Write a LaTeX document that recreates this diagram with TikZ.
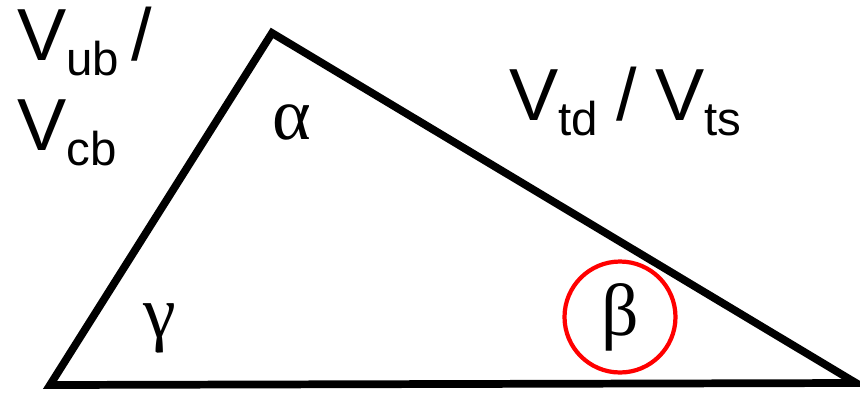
\documentclass[tikz,border=0pt]{standalone}
\usepackage{fontspec}
\setmainfont{Liberation Sans}
\newfontfamily\greekfont{Liberation Serif}
\usepackage{xcolor}
\usetikzlibrary{positioning}
\newcommand\ckmsub[1]{\raisebox{-0.21em}{\fontsize{27}{30}\selectfont #1}}

\begin{document}
\begin{tikzpicture}[
    x=0.02cm, y=-0.02cm,
    side/.style={draw=black, line width=4.4pt},
    ckm/.style={anchor=base west, inner sep=0pt,
                font=\fontsize{42}{46}\selectfont},
    angle/.style={inner sep=0pt, font=\greekfont\fontsize{42}{46}\selectfont},
    mark circle/.style={circle, draw=red, line width=2.4pt,
                        minimum size=2.22cm, inner sep=0pt},
]
\useasboundingbox (0,0) rectangle (860,393);

%% Triangle corners
\coordinate (bl)  at (50,385);
\coordinate (top) at (272,33);
\coordinate (br)  at (856,383);
\draw[side] (bl) -- (top) -- (br) -- cycle;

%% Side labels
\node[ckm] (vub) at (17,60)  {V\ckmsub{ub}\kern0.16em/};
\node[ckm] (vcb) at (17,150) {V\ckmsub{cb}};
\node[ckm] (vtd) at (509,120) {V\ckmsub{td}\kern0.25em/\kern0.25em V\ckmsub{ts}};

%% Angles
\node[angle] (alpha) at (292,122) {α};
\node[angle] (gamma) at (160,328) {γ};
\node[mark circle] (beta) at (620,317) {};
\node[angle] (betalbl) at (beta.center) {β};
\end{tikzpicture}
\end{document}
